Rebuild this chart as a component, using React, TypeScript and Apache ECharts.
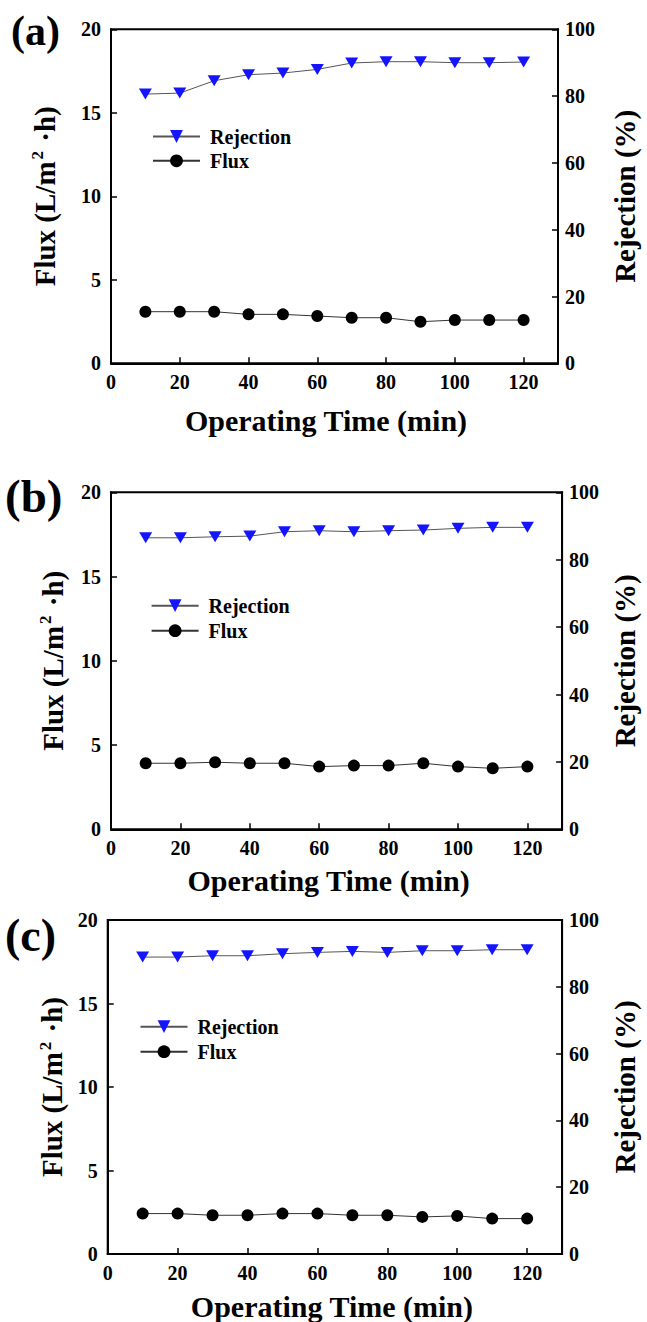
import React, { useEffect, useRef } from "react";
import * as echarts from "echarts";

// ---- data ----
const times = [10, 20, 30, 40, 50, 60, 70, 80, 90, 100, 110, 120];

const rejectionA = [80.6, 80.9, 84.6, 86.4, 86.9, 88.0, 89.9, 90.3, 90.3, 90.0, 90.0, 90.2];
const fluxA = [3.09, 3.09, 3.09, 2.93, 2.93, 2.83, 2.73, 2.73, 2.49, 2.59, 2.59, 2.59];

const rejectionB = [86.5, 86.5, 86.8, 87.0, 88.3, 88.6, 88.3, 88.6, 88.8, 89.3, 89.6, 89.6];
const fluxB = [3.92, 3.92, 3.98, 3.92, 3.92, 3.72, 3.78, 3.78, 3.92, 3.72, 3.62, 3.72];

const rejectionC = [88.9, 88.9, 89.3, 89.3, 89.9, 90.3, 90.6, 90.3, 90.8, 90.8, 91.1, 91.1];
const fluxC = [2.42, 2.42, 2.32, 2.32, 2.42, 2.42, 2.32, 2.32, 2.22, 2.28, 2.12, 2.12];

const panelLabels = ["(a)", "(b)", "(c)"];
const legendNames = ["Rejection", "Flux"];
const xTitle = "Operating Time (min)";
const yLeftTitle = "Flux (L/m{sup|2} ·h)";
const yRightTitle = "Rejection (%)";

const FONT = '"Liberation Serif", "Times New Roman", serif';

const layouts = [
  { grid: { left: 111, top: 29.3, width: 452.3, height: 334 }, legend: { left: 152, top: 126.5, gap: 4.3 },
    label: { x: 11, y: 33, size: 42 }, gapX: 42, gapL: 51, gapR: 52, xPad: 17 },
  { grid: { left: 111, top: 492.3, width: 465.7, height: 337 }, legend: { left: 150.6, top: 595.7, gap: 5 },
    label: { x: 5, y: 498, size: 47 }, gapX: 36, gapL: 43, gapR: 38, xPad: 16 },
  { grid: { left: 107.7, top: 920, width: 462.3, height: 335 }, legend: { left: 139.5, top: 1016.7, gap: 5 },
    label: { x: 5, y: 938, size: 46 }, gapX: 37, gapL: 40, gapR: 43, xPad: 6 },
];

const datasets = [
  { rej: rejectionA, flux: fluxA },
  { rej: rejectionB, flux: fluxB },
  { rej: rejectionC, flux: fluxC },
];

function buildOption() {
  const grids: any[] = [];
  const xAxes: any[] = [];
  const yAxes: any[] = [];
  const series: any[] = [];
  const legends: any[] = [];
  const graphics: any[] = [];

  const axisCommon = {
    axisLine: { show: true, onZero: false, lineStyle: { color: "#000", width: 2 } },
    axisTick: { show: true, inside: true, length: 6, lineStyle: { color: "#000", width: 1.5 } },
    splitLine: { show: false },
  };
  const labelStyle = { color: "#000", fontFamily: FONT, fontWeight: "bold", fontSize: 20 };

  layouts.forEach((L, i) => {
    grids.push({ ...L.grid, show: true, borderColor: "#000", borderWidth: 2, backgroundColor: "transparent", containLabel: false });
    xAxes.push({
      type: "value", gridIndex: i, min: 0, max: 130, interval: 20,
      ...axisCommon,
      axisLabel: { ...labelStyle, margin: 9, showMaxLabel: false },
      name: xTitle, nameLocation: "middle", nameGap: L.gapX,
      nameTextStyle: { color: "#000", fontFamily: FONT, fontWeight: "bold", fontSize: 30, padding: [0, L.xPad, 0, 0] },
    });
    yAxes.push({
      type: "value", gridIndex: i, position: "left", min: 0, max: 20, interval: 5,
      ...axisCommon,
      axisLabel: { ...labelStyle, margin: 10 },
      name: yLeftTitle, nameLocation: "middle", nameRotate: 90, nameGap: L.gapL,
      nameTextStyle: {
        color: "#000", fontFamily: FONT, fontWeight: "bold", fontSize: 29,
        rich: { sup: { color: "#000", fontFamily: FONT, fontWeight: "bold", fontSize: 17, padding: [0, 2, 14, 2] } },
      },
    });
    yAxes.push({
      type: "value", gridIndex: i, position: "right", min: 0, max: 100, interval: 20,
      ...axisCommon,
      axisLabel: { ...labelStyle, margin: 7 },
      name: yRightTitle, nameLocation: "middle", nameRotate: 90, nameGap: L.gapR,
      nameTextStyle: { color: "#000", fontFamily: FONT, fontWeight: "bold", fontSize: 29 },
    });
    const d = datasets[i];
    series.push({
      name: legendNames[0], type: "line", xAxisIndex: i, yAxisIndex: 2 * i + 1,
      data: times.map((t, k) => [t, d.rej[k]]),
      symbol: "triangle", symbolRotate: 180, symbolSize: [13, 11],
      itemStyle: { color: "#1414ff" },
      lineStyle: { color: "#555", width: 1 },
      z: 3,
    });
    series.push({
      name: legendNames[1], type: "line", xAxisIndex: i, yAxisIndex: 2 * i,
      data: times.map((t, k) => [t, d.flux[k]]),
      symbol: "circle", symbolSize: 12,
      itemStyle: { color: "#000" },
      lineStyle: { color: "#333", width: 1 },
      z: 3,
    });
    legends.push({
      data: legendNames, orient: "vertical", left: L.legend.left, top: L.legend.top,
      itemWidth: 47, itemHeight: 16, itemGap: L.legend.gap, padding: 0,
      selectedMode: false,
      textStyle: { color: "#000", fontFamily: FONT, fontWeight: "bold", fontSize: 20, lineHeight: 20, padding: [0, 0, 0, 5] },
    });
    graphics.push({
      type: "text", left: L.label.x, top: L.label.y - L.label.size * 0.55,
      style: { text: panelLabels[i], fill: "#000", font: `bold ${L.label.size}px ${FONT}` },
    });
  });

  return {
    animation: false,
    backgroundColor: "#fff",
    grid: grids,
    xAxis: xAxes,
    yAxis: yAxes,
    series,
    legend: legends,
    graphic: graphics,
  };
}

export default function App() {
  const ref = useRef<HTMLDivElement>(null);
  useEffect(() => {
    if (!ref.current) return;
    const chart = echarts.init(ref.current, undefined, { renderer: "svg" });
    chart.setOption(buildOption());
    return () => chart.dispose();
  }, []);
  return (
    <div
      ref={ref}
      style={{ position: "absolute", left: 0, top: 0, width: 647, height: 1322, background: "#fff" }}
    />
  );
}
